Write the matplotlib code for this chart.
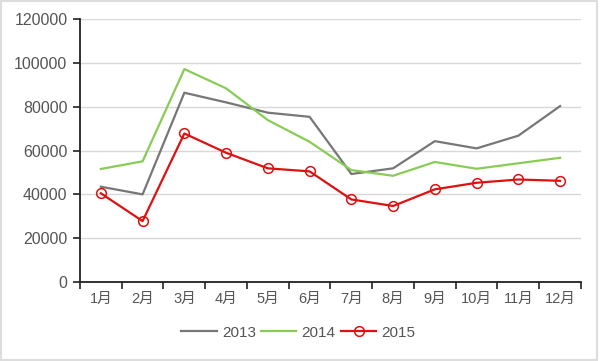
import numpy as np
import matplotlib.pyplot as plt
from matplotlib.patches import Rectangle

plt.rcParams['font.family'] = ['Liberation Sans', 'Noto Sans CJK SC', 'DejaVu Sans']

months = ['1月', '2月', '3月', '4月', '5月', '6月', '7月', '8月', '9月', '10月', '11月', '12月']
sales_2013 = [43500, 40000, 86400, 82000, 77300, 75400, 49300, 51900, 64300, 61000, 66800, 80300]
sales_2014 = [51600, 55100, 97200, 88400, 73900, 64000, 51100, 48500, 54800, 51700, 54200, 56700]
sales_2015 = [40500, 27800, 67800, 59000, 51900, 50500, 37700, 34700, 42300, 45300, 46800, 46200]

fig = plt.figure(figsize=(6, 3.61), dpi=100)
ax = fig.add_axes([0.1333, 0.2188, 0.835, 0.7282])

x = np.arange(len(months))
ax.plot(x, sales_2013, color='#777777', lw=1.6, label='2013')
ax.plot(x, sales_2014, color='#88cc55', lw=1.6, label='2014')
ax.plot(x, sales_2015, color='#dd1111', lw=1.6, marker='o', ms=7,
        mfc='none', mec='#dd1111', mew=1.1, label='2015')

ax.set_xlim(-0.5, 11.5)
ax.set_ylim(0, 120000)
ax.set_yticks(np.arange(0, 120001, 20000))
ax.set_yticklabels([str(v) for v in range(0, 120001, 20000)])
ax.set_xticks(x)
ax.set_xticklabels(months)
ax.set_xticks(np.arange(-0.5, 12, 1), minor=True)
ax.tick_params(axis='x', which='major', length=0, pad=7, labelsize=10.5, colors='#555555')
ax.tick_params(axis='x', which='minor', length=5, width=1.2, color='#222222', direction='out')
ax.tick_params(axis='y', length=5, width=1.2, color='#222222', labelsize=11.5,
               labelcolor='#555555', pad=4)

ax.grid(axis='y', color='#d8d8d8', lw=1)
ax.set_axisbelow(True)
for s in ['top', 'right']:
    ax.spines[s].set_visible(False)
ax.spines['left'].set_color('#222222')
ax.spines['bottom'].set_color('#222222')
ax.spines['left'].set_linewidth(1.3)
ax.spines['bottom'].set_linewidth(1.3)

leg = fig.legend(loc='center', bbox_to_anchor=(0.4975, 0.078), ncol=3, frameon=False,
                 fontsize=11, handlelength=2.3, columnspacing=0.35, handletextpad=0.35)
for t in leg.get_texts():
    t.set_color('#555555')

fig.patches.append(Rectangle((0.002, 0.004), 0.993, 0.992, transform=fig.transFigure,
                             fill=False, edgecolor='#dddddd', lw=1.5))

fig.savefig('out.png', dpi=100)
